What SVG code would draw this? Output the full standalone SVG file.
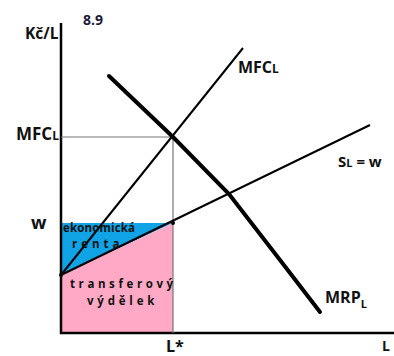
<svg xmlns="http://www.w3.org/2000/svg" width="394" height="356" viewBox="0 0 394 356">
<style>
text{font-family:"Open Sans","Liberation Sans",sans-serif;font-weight:bold;fill:#111}
.ax{stroke:#000;stroke-width:2.5;fill:none}
.ln{stroke:#000;stroke-width:2;fill:none}
.th{stroke:#000;stroke-width:4;fill:none;stroke-linecap:round}
.gr{stroke:#777;stroke-width:1.2;fill:none}
.in{font-size:11.5px;font-weight:bold;fill:#111}
</style>
<rect width="394" height="356" fill="#fff"/>
<g id="areas">
<polygon points="61,223 173,223 61,275" fill="#10a3e6"/>
<polygon points="61,275 173,223 173,333 61,333" fill="#ffa9c6"/>
</g>
<g id="axes">
<line class="ax" x1="61" y1="23" x2="61" y2="334"/>
<line class="ax" x1="60" y1="333" x2="394" y2="333"/>
</g>
<g id="guides">
<line class="gr" x1="61" y1="137" x2="173" y2="137"/>
<line class="gr" x1="173" y1="137" x2="173" y2="333"/>
</g>
<g id="connectors">
<line id="mfc" class="ln" x1="61" y1="275" x2="243" y2="48"/>
<line id="supply" class="ln" x1="61" y1="275" x2="370" y2="125"/>
<polyline id="mrp" class="th" points="109,76 173,137 229,194 280,260 320,312"/>
<circle cx="61" cy="275" r="2" fill="#000"/>
<circle cx="173" cy="223" r="2" fill="#000"/>
</g>
<g id="labels">
<text x="83" y="25" font-size="14" style="fill:#1a1a3a">8.9</text>
<text x="25" y="39" font-size="15.5">Kč/L</text>
<text x="16" y="140" font-size="17">MFC<tspan font-size="12">L</tspan></text>
<text x="31" y="229" font-size="18">w</text>
<text x="238" y="73" font-size="16">MFC<tspan font-size="12">L</tspan></text>
<text x="338" y="167" font-size="15">S<tspan font-size="11">L</tspan> = w</text>
<text x="325" y="303" font-size="16">MRP<tspan font-size="11" dy="5">L</tspan></text>
<text x="166" y="352" font-size="16">L*</text>
<text x="382" y="351" font-size="14">L</text>
</g>
<g id="inner">
<text class="in" x="63" y="232" textLength="72">ekonomická</text>
<text class="in" x="72" y="248" letter-spacing="4">renta</text>
<text class="in" x="70" y="288" letter-spacing="3.6">transferový</text>
<text class="in" x="87" y="305" letter-spacing="3.8">výdělek</text>
</g>
</svg>
